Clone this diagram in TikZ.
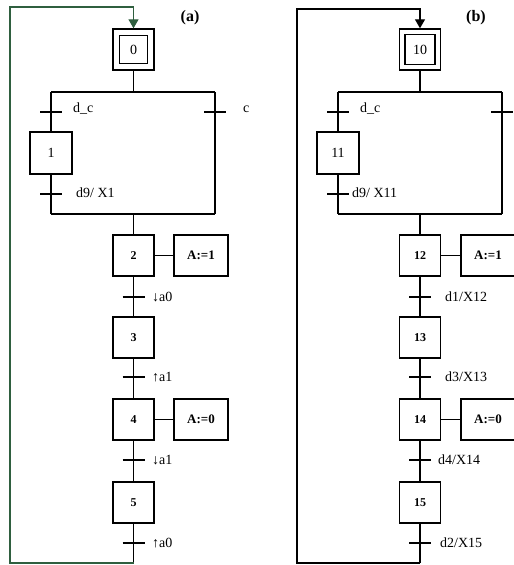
\documentclass[tikz,border=0pt]{standalone}
\usepackage{fontspec}
\setmainfont{Liberation Serif}
\usepackage{xcolor}
\usepackage{tikz}
\usetikzlibrary{arrows.meta, positioning}
\definecolor{loopgreen}{HTML}{2F5F3F}
\begin{document}
\begin{tikzpicture}[
  x=1pt, y=-1pt,
  every node/.style={font=\fontsize{14}{16}\selectfont},
  stepbox/.style={draw,line width=1.4pt,minimum width=41pt,minimum height=41pt,inner sep=0pt},
  innerbox/.style={draw,line width=1.2pt,minimum width=28pt,minimum height=28pt,inner sep=0pt},
  actbox/.style={draw,line width=1.4pt,minimum width=54pt,minimum height=41pt,inner sep=0pt,font=\fontsize{13}{15}\selectfont\bfseries},
  num/.style={font=\fontsize{12}{14}\selectfont\bfseries},
  label/.style={anchor=west,inner sep=0pt},
  link/.style={line width=1.2pt},
  trans/.style={line width=1.2pt},
  back/.style={line width=1.2pt,-{Triangle[width=10pt,length=9pt]}}
]
\useasboundingbox (0,0) rectangle (514,565);
\clip (0,0) rectangle (514,565);
\newcommand{\trans}[1]{\draw[trans] ([xshift=-11pt]#1) -- ([xshift=11pt]#1);}
% (a)
\node[font=\fontsize{16}{18}\selectfont\bfseries] (ta) at (190,18) {(a)};
\node[stepbox] (a0) at (133.5,49.5) {};
\node[innerbox] (a0i) at (a0) {0};
\node[stepbox,minimum width=42pt,minimum height=42pt] (a1) at (51,153) {1};
\node[stepbox,num] (a2) at (133.5,255.5) {2};
\node[stepbox,num] (a3) at (133.5,337.5) {3};
\node[stepbox,num] (a4) at (133.5,419.5) {4};
\node[stepbox,num] (a5) at (133.5,502.5) {5};
\node[actbox] (act2) at (201,255.5) {A:=1};
\node[actbox] (act4) at (201,419.5) {A:=0};
\coordinate (a0l) at (51,92); \coordinate (a0r) at (215,92);
\coordinate (a1l) at (51,214); \coordinate (a1r) at (215,214);
\coordinate (aend) at (133.5,563); \coordinate (aloop) at (10,7);
\draw[link] (a0) -- (a0 |- a0l); \draw[link] (a0l) -- (a0r);
\draw[link] (a0l) -- (a1); \draw[link] (a1) -- (a1l);
\draw[link] (a0r) -- (a1r); \draw[link] (a1l) -- (a1r);
\draw[link] (a1l -| a2) -- (a2); \draw[link] (a2) -- (a3);
\draw[link] (a3) -- (a4); \draw[link] (a4) -- (a5);
\draw[link] (a5) -- (aend);
\draw[link] (a2) -- (act2); \draw[link] (a4) -- (act4);
\draw[back,loopgreen] (aend) -| (aloop) -| (a0.north);
\coordinate (ta1) at (51,112); \coordinate (ta2) at (215,112);
\coordinate (ta3) at (51,194); \coordinate (ta4) at (133.5,297);
\coordinate (ta5) at (133.5,377); \coordinate (ta6) at (133.5,460);
\coordinate (ta7) at (133.5,543);
\trans{ta1} \trans{ta2} \trans{ta3} \trans{ta4}
\trans{ta5} \trans{ta6} \trans{ta7}
\node[label] (la1) at (73,109) {d\_c};
\node[label] (la2) at (243,109) {c};
\node[label] (la3) at (76,193) {d9/ X1};
\node[label] (la4) at (152,297) {↓a0};
\node[label] (la5) at (152,377) {↑a1};
\node[label] (la6) at (152,460) {↓a1};
\node[label] (la7) at (152,543) {↑a0};
% (b)
\node[font=\fontsize{16}{18}\selectfont\bfseries] (tb) at (476,18) {(b)};
\node[stepbox] (b10) at (420,49.5) {};
\node[innerbox,minimum width=30pt,minimum height=30pt] (b10i) at (b10) {10};
\node[stepbox,minimum width=42pt,minimum height=42pt] (b11) at (338,153) {11};
\node[stepbox,num] (b12) at (420,255.5) {12};
\node[stepbox,num] (b13) at (420,337.5) {13};
\node[stepbox,num] (b14) at (420,419.5) {14};
\node[stepbox,num] (b15) at (420,502.5) {15};
\node[actbox] (act12) at (488,255.5) {A:=1};
\node[actbox] (act14) at (488,419.5) {A:=0};
\coordinate (b10l) at (338,92); \coordinate (b10r) at (502,92);
\coordinate (b11l) at (338,214); \coordinate (b11r) at (502,214);
\coordinate (bend) at (420,563); \coordinate (bloop) at (297,9);
\draw[link] (b10) -- (b10 |- b10l); \draw[link] (b10l) -- (b10r);
\draw[link] (b10l) -- (b11); \draw[link] (b11) -- (b11l);
\draw[link] (b10r) -- (b11r); \draw[link] (b11l) -- (b11r);
\draw[link] (b11l -| b12) -- (b12); \draw[link] (b12) -- (b13);
\draw[link] (b13) -- (b14); \draw[link] (b14) -- (b15);
\draw[link] (b15) -- (bend);
\draw[link] (b12) -- (act12); \draw[link] (b14) -- (act14);
\draw[back] (bend) -| (bloop) -| (b10.north);
\coordinate (tb1) at (338,112); \coordinate (tb2) at (502,112);
\coordinate (tb3) at (338,194); \coordinate (tb4) at (420,297);
\coordinate (tb5) at (420,377); \coordinate (tb6) at (420,460);
\coordinate (tb7) at (420,543);
\trans{tb1} \trans{tb2} \trans{tb3} \trans{tb4}
\trans{tb5} \trans{tb6} \trans{tb7}
\node[label] (lb1) at (360,109) {d\_c};
\node[label] (lb3) at (352,193) {d9/ X11};
\node[label] (lb4) at (445,297) {d1/X12};
\node[label] (lb5) at (445,377) {d3/X13};
\node[label] (lb6) at (438,460) {d4/X14};
\node[label] (lb7) at (440,543) {d2/X15};
\end{tikzpicture}
\end{document}
